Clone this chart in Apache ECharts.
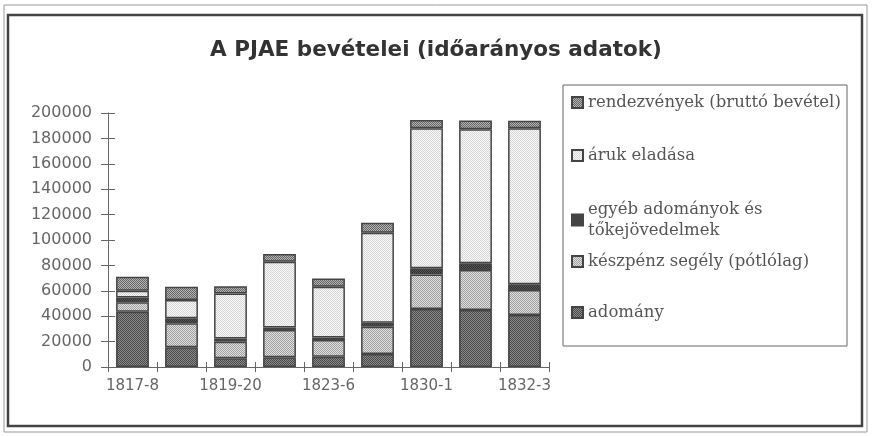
<!DOCTYPE html>
<html>
<head>
<meta charset="utf-8">
<script src="https://cdn.jsdelivr.net/npm/echarts@6/dist/echarts.min.js"></script>
<style>
  html, body { margin: 0; padding: 0; background: #fff; }
  #chart { width: 872px; height: 436px; }
</style>
</head>
<body>
<div id="chart"></div>
<script>
// data
const categories = ['1817-8', '1818-9', '1819-20', '1820-3', '1823-6', '1826-30', '1830-1', '1831-2', '1832-3']
const adomany = [43500, 15500, 6800, 7600, 8100, 10200, 45700, 44900, 40900]
const keszpenz = [7400, 18900, 13000, 21500, 13100, 21500, 27200, 31500, 19700]
const egyeb = [3900, 3900, 2700, 2100, 2100, 3100, 4900, 5300, 4500]
const aruk = [5200, 14400, 35400, 51600, 39800, 70900, 110200, 105500, 122800]
const rendezvenyek = [11000, 10500, 5700, 6100, 6600, 7900, 6500, 6800, 6000]
const yTicks = { min: 0, max: 200000, interval: 20000 }

// small dotted fills, like the printed hatching
function pat(base, dot) {
  const c = document.createElement('canvas')
  c.width = 2
  c.height = 2
  const g = c.getContext('2d')
  g.fillStyle = base
  g.fillRect(0, 0, 2, 2)
  g.fillStyle = dot
  g.fillRect(0, 0, 1, 1)
  g.fillRect(1, 1, 1, 1)
  return { image: c, repeat: 'repeat' }
}

const names = [
  'adomány',
  'készpénz segély (pótlólag)',
  'egyéb adományok és tőkejövedelmek',
  'áruk eladása',
  'rendezvények (bruttó bevétel)'
]
const values = [adomany, keszpenz, egyeb, aruk, rendezvenyek]
const fills = [
  pat('#8a8a8a', '#4a4a4a'),
  pat('#e0e0e0', '#a0a0a0'),
  pat('#5a5a5a', '#2c2c2c'),
  pat('#f8f8f8', '#d6d6d6'),
  pat('#b4b4b4', '#666666')
]

const txt = '#666'
const axisFont = { fontFamily: 'DejaVu Sans', fontSize: 15, color: txt }

function legendAt(name, top, fmt) {
  return {
    data: [name],
    left: 566,
    top: top,
    orient: 'vertical',
    selectedMode: false,
    itemWidth: 11,
    itemHeight: 11,
    itemGap: 0,
    icon: 'rect',
    formatter: fmt || '{name}',
    textStyle: { fontFamily: 'DejaVu Serif', fontSize: 16.5, color: '#555', lineHeight: 21 }
  }
}

const chart = echarts.init(document.getElementById('chart'))
const option = {
  animation: false,
  title: {
    text: 'A PJAE bevételei (időarányos adatok)',
    left: 'center',
    top: 34,
    textStyle: { fontFamily: 'DejaVu Sans', fontWeight: 'bold', fontSize: 21.5, color: '#333' }
  },
  graphic: [
    { type: 'rect', shape: { x: 4, y: 5, width: 863, height: 427 }, style: { fill: 'none', stroke: '#999', lineWidth: 1 } },
    { type: 'rect', shape: { x: 8, y: 15, width: 854, height: 411 }, style: { fill: 'none', stroke: '#444', lineWidth: 2.5 } },
    { type: 'rect', shape: { x: 563, y: 85, width: 284, height: 261 }, style: { fill: 'none', stroke: '#666', lineWidth: 1 } }
  ],
  legend: [
    legendAt(names[4], 87),
    legendAt(names[3], 140),
    legendAt(names[2], 194, 'egyéb adományok és\ntőkejövedelmek'),
    legendAt(names[1], 246),
    legendAt(names[0], 297)
  ],
  grid: { left: 108, top: 113, right: 323, bottom: 69, containLabel: false },
  xAxis: [
    {
      type: 'category',
      data: categories,
      axisLine: { lineStyle: { color: '#666', width: 1 } },
      axisTick: { show: true, interval: 0, length: 5, lineStyle: { color: '#666' } },
      axisLabel: Object.assign({ interval: 1, margin: 12 }, axisFont)
    },
    {
      type: 'category',
      data: categories,
      position: 'bottom',
      axisLine: { show: false },
      axisTick: { show: true, interval: 0, inside: true, length: 5, lineStyle: { color: '#666' } },
      axisLabel: { show: false }
    }
  ],
  yAxis: [
    {
      type: 'value',
      min: yTicks.min,
      max: yTicks.max,
      interval: yTicks.interval,
      axisLine: { show: true, lineStyle: { color: '#666', width: 1 } },
      axisTick: { show: true, length: 7, lineStyle: { color: '#666' } },
      splitLine: { show: false },
      axisLabel: Object.assign({ margin: 16, formatter: function (v) { return String(v) } }, axisFont, { fontSize: 16 })
    },
    {
      type: 'value',
      position: 'left',
      min: yTicks.min,
      max: yTicks.max,
      interval: yTicks.interval,
      axisLine: { show: false },
      axisTick: { show: true, inside: true, length: 7, lineStyle: { color: '#666' } },
      splitLine: { show: false },
      axisLabel: { show: false }
    }
  ],
  series: names.map(function (n, i) {
    return {
      name: n,
      type: 'bar',
      stack: 'total',
      barWidth: '67%',
      data: values[i],
      itemStyle: { color: fills[i], borderColor: '#444', borderWidth: 1.5 }
    }
  })
}
chart.setOption(option)
</script>
</body>
</html>
